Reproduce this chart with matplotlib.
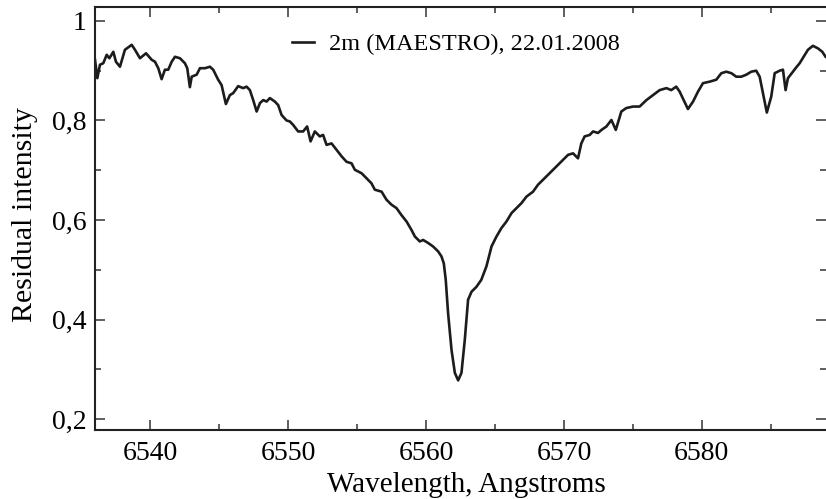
import matplotlib
matplotlib.use("Agg")
import matplotlib.pyplot as plt
import matplotlib.ticker as mticker

# H-alpha profile
wavelength = [
    6536.00, 6536.17, 6536.36, 6536.60, 6536.85, 6537.04, 6537.33, 6537.52, 6537.81, 6538.17,
    6538.66, 6538.90, 6539.26, 6539.70, 6540.11, 6540.35, 6540.59, 6540.83, 6541.07, 6541.31,
    6541.56, 6541.80, 6542.16, 6542.52, 6542.69, 6542.88, 6543.01, 6543.37, 6543.61, 6543.97,
    6544.33, 6544.57, 6544.93, 6545.18, 6545.49, 6545.78, 6546.02, 6546.38, 6546.75, 6546.99,
    6547.23, 6547.47, 6547.72, 6547.96, 6548.20, 6548.44, 6548.68, 6549.04, 6549.28, 6549.53,
    6549.89, 6550.13, 6550.37, 6550.73, 6551.09, 6551.38, 6551.63, 6551.94, 6552.30, 6552.54,
    6552.79, 6553.15, 6553.51, 6553.88, 6554.24, 6554.60, 6554.84, 6555.33, 6555.69, 6556.04,
    6556.29, 6556.78, 6557.13, 6557.49, 6557.86, 6558.22, 6558.59, 6558.95, 6559.19, 6559.55,
    6559.79, 6560.15, 6560.51, 6560.88, 6561.12, 6561.29, 6561.43, 6561.60, 6561.85, 6562.09,
    6562.33, 6562.57, 6562.81, 6563.05, 6563.30, 6563.66, 6564.01, 6564.38, 6564.75, 6565.11,
    6565.47, 6565.83, 6566.20, 6566.56, 6566.92, 6567.28, 6567.76, 6568.12, 6568.49, 6568.85,
    6569.21, 6569.57, 6569.93, 6570.30, 6570.66, 6571.02, 6571.26, 6571.50, 6571.87, 6572.11,
    6572.47, 6572.72, 6573.08, 6573.44, 6573.76, 6574.16, 6574.52, 6575.01, 6575.49, 6575.98,
    6576.46, 6576.94, 6577.43, 6577.78, 6578.14, 6578.39, 6578.68, 6578.99, 6579.36, 6579.72,
    6580.08, 6580.57, 6581.05, 6581.41, 6581.77, 6582.14, 6582.49, 6582.86, 6583.22, 6583.58,
    6583.94, 6584.19, 6584.43, 6584.71, 6585.03, 6585.28, 6585.64, 6585.88, 6586.07, 6586.24,
    6586.60, 6586.88, 6587.09, 6587.38, 6587.69, 6588.05, 6588.41, 6588.73, 6588.97,
]
intensity = [
    0.922, 0.885, 0.912, 0.915, 0.932, 0.925, 0.938, 0.918, 0.908, 0.942,
    0.952, 0.942, 0.925, 0.935, 0.922, 0.918, 0.905, 0.883, 0.902, 0.902,
    0.918, 0.928, 0.925, 0.915, 0.905, 0.867, 0.888, 0.892, 0.905, 0.905,
    0.908, 0.902, 0.882, 0.871, 0.833, 0.851, 0.855, 0.869, 0.865, 0.868,
    0.861, 0.841, 0.818, 0.835, 0.841, 0.838, 0.845, 0.838, 0.831, 0.811,
    0.800, 0.798, 0.791, 0.778, 0.778, 0.788, 0.758, 0.778, 0.768, 0.771,
    0.751, 0.754, 0.741, 0.728, 0.717, 0.714, 0.701, 0.694, 0.684, 0.674,
    0.661, 0.657, 0.641, 0.631, 0.624, 0.610, 0.597, 0.580, 0.567, 0.557,
    0.560, 0.554, 0.547, 0.537, 0.527, 0.513, 0.480, 0.413, 0.339, 0.293,
    0.278, 0.293, 0.359, 0.440, 0.456, 0.466, 0.480, 0.507, 0.547, 0.567,
    0.584, 0.597, 0.614, 0.624, 0.634, 0.647, 0.657, 0.671, 0.681, 0.691,
    0.701, 0.711, 0.721, 0.731, 0.734, 0.724, 0.754, 0.768, 0.771, 0.778,
    0.775, 0.781, 0.788, 0.801, 0.781, 0.818, 0.825, 0.828, 0.828, 0.841,
    0.851, 0.861, 0.865, 0.861, 0.868, 0.858, 0.841, 0.823, 0.838, 0.858,
    0.875, 0.878, 0.882, 0.895, 0.898, 0.895, 0.888, 0.888, 0.892, 0.898,
    0.900, 0.888, 0.855, 0.816, 0.848, 0.895, 0.900, 0.902, 0.861, 0.885,
    0.898, 0.908, 0.915, 0.928, 0.942, 0.950, 0.945, 0.938, 0.928,
]

x_ticks = [6540, 6550, 6560, 6570, 6580]
y_ticks = [0.2, 0.4, 0.6, 0.8, 1.0]
y_tick_labels = ["0,2", "0,4", "0,6", "0,8", "1"]

plt.rcParams["font.family"] = ["Liberation Serif", "DejaVu Serif"]

fig = plt.figure(figsize=(8.26, 4.99), dpi=100)
ax = fig.add_axes([0.115, 0.138, 0.885, 0.848])

ax.plot(wavelength, intensity, color="#1c1c1c", linewidth=1.9,
        label="2m (MAESTRO), 22.01.2008")

ax.set_xlim(6536, 6589)
ax.set_ylim(0.178, 1.028)

ax.xaxis.set_major_locator(mticker.FixedLocator(x_ticks))
ax.xaxis.set_minor_locator(mticker.MultipleLocator(5))
ax.yaxis.set_major_locator(mticker.FixedLocator(y_ticks))
ax.yaxis.set_minor_locator(mticker.MultipleLocator(0.1))
ax.set_yticklabels(y_tick_labels)

ax.tick_params(which="both", direction="in", top=True, right=True,
               width=1.1, color="#333333", labelsize=20)
ax.tick_params(which="major", length=7.5, pad=6)
ax.tick_params(axis="x", which="major", pad=8)
ax.tick_params(which="minor", length=4)

for side in ["left", "bottom", "top"]:
    ax.spines[side].set_linewidth(1.5)
    ax.spines[side].set_color("#222222")
ax.spines["right"].set_visible(False)

ax.set_xlabel("Wavelength, Angstroms", fontsize=21)
ax.set_ylabel("Residual intensity", fontsize=21.5)
ax.xaxis.set_label_coords(0.508, -0.099)
ax.yaxis.set_label_coords(-0.078, 0.51)

ax.legend(loc="upper left", bbox_to_anchor=(0.24, 0.99), frameon=False,
          fontsize=17.5, handlelength=0.9, handletextpad=0.6)

fig.savefig("out.png", dpi=100)
